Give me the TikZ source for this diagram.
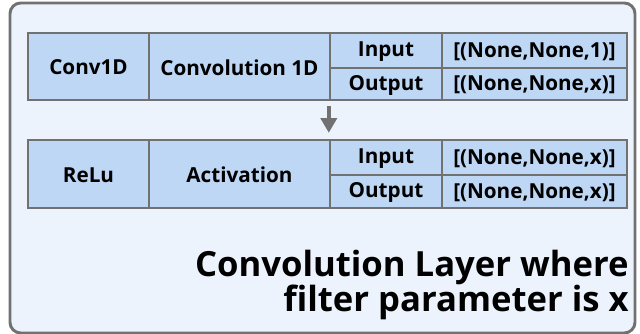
\documentclass[tikz,border=0pt]{standalone}
\usepackage{fontspec}
\setmainfont{Open Sans}
\usetikzlibrary{arrows.meta,fit}
\definecolor{outerfill}{HTML}{EDF3FC}
\definecolor{cellfill}{HTML}{BDD7F4}
\definecolor{edgegray}{HTML}{717171}
\tikzset{
  cellbox/.style={draw=edgegray, line width=1.8pt, fill=cellfill, inner sep=0pt},
  celltext/.style={font=\fontsize{15.5}{18}\selectfont\bfseries, yshift=-0.8pt},
  arr/.style={draw=edgegray, line width=2.6pt, -{Triangle[width=12pt,length=11pt]}},
  titletext/.style={font=\fontsize{26}{30}\selectfont\bfseries, inner sep=0pt}
}
\begin{document}
\begin{tikzpicture}[x=0.75pt,y=-0.75pt]
\useasboundingbox (0,0) rectangle (640,334);
\draw[draw=edgegray, line width=2.2pt, fill=outerfill, rounded corners=8pt] (10,3) rectangle (635,333);
% table 1
\node[cellbox, fit={(28,33) (149,100)}, label={[celltext]center:Conv1D}] (conv) {};
\node[cellbox, fit={(149,33) (330,100)}, label={[celltext]center:Convolution 1D}] (convname) {};
\node[cellbox, fit={(330,33) (442,68)}, label={[celltext]center:Input}] (in1) {};
\node[cellbox, fit={(442,33) (627,68)}, label={[celltext]center:[(None,None,1)]}] (in1v) {};
\node[cellbox, fit={(330,68) (442,100)}, label={[celltext]center:Output}] (out1) {};
\node[cellbox, fit={(442,68) (627,100)}, label={[celltext]center:[(None,None,x)]}] (out1v) {};
% table 2
\node[cellbox, fit={(28,140) (149,208)}, label={[celltext]center:ReLu}] (relu) {};
\node[cellbox, fit={(149,140) (330,208)}, label={[celltext]center:Activation}] (act) {};
\node[cellbox, fit={(330,140) (442,175)}, label={[celltext]center:Input}] (in2) {};
\node[cellbox, fit={(442,140) (627,175)}, label={[celltext]center:[(None,None,x)]}] (in2v) {};
\node[cellbox, fit={(330,175) (442,208)}, label={[celltext]center:Output}] (out2) {};
\node[cellbox, fit={(442,175) (627,208)}, label={[celltext]center:[(None,None,x)]}] (out2v) {};
% arrow
\draw[arr] ([yshift=-3.75pt]out1.south west) -- ([yshift=4.5pt]in2.north west);
% title
\node[titletext, anchor=base east] (title1) at (629,277) {Convolution Layer where};
\node[titletext, anchor=base east] (title2) at (629,312) {filter parameter is x};
\end{tikzpicture}
\end{document}
